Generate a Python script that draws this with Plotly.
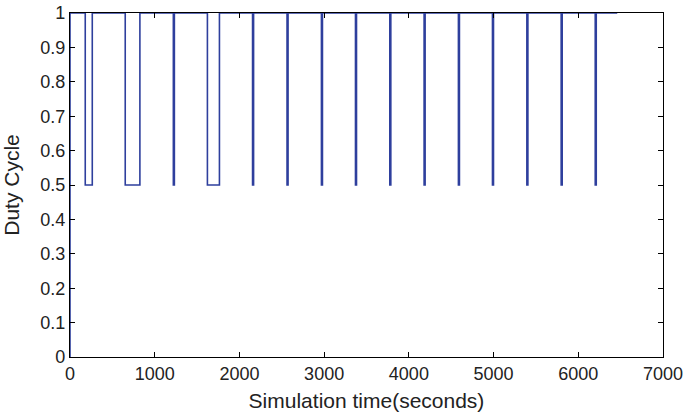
import plotly.graph_objects as go

# Pulse intervals where duty cycle drops to 0.5 (seconds)
pulse_start = [180, 652, 1220, 1622, 2155, 2562, 2968, 3370, 3775, 4180, 4585, 4987, 5393, 5798, 6200]
pulse_end   = [263, 825, 1232, 1764, 2167, 2574, 2980, 3382, 3787, 4192, 4597, 4999, 5405, 5810, 6212]
end_time = 6460
high_value = 1.0
low_value = 0.5

x_ticks = [0, 1000, 2000, 3000, 4000, 5000, 6000, 7000]
y_ticks = [0, 0.1, 0.2, 0.3, 0.4, 0.5, 0.6, 0.7, 0.8, 0.9, 1]
y_ticklabels = ["0", "0.1", "0.2", "0.3", "0.4", "0.5", "0.6", "0.7", "0.8", "0.9", "1"]

xs = [0, 0]
ys = [0, high_value]
for s, e in zip(pulse_start, pulse_end):
    xs += [s, e]
    ys += [low_value, high_value]
xs.append(end_time)
ys.append(high_value)

fig = go.Figure()
fig.add_trace(go.Scatter(x=xs, y=ys, mode="lines", line=dict(color="#2e3f9d", width=1.6, shape="hv"),
                         showlegend=False))

font_family = "Liberation Sans, Arial"
axis_common = dict(showline=True, linecolor="black", linewidth=1.2, mirror="ticks",
                   ticks="inside", ticklen=5, tickcolor="black", showgrid=False, zeroline=False,
                   automargin=False,
                   tickfont=dict(family=font_family, size=18, color="#222"))

fig.update_xaxes(range=[0, 7000], tickvals=x_ticks,
                 title=dict(text="Simulation time(seconds)",
                            font=dict(family=font_family, size=21, color="#222")), **axis_common)
fig.update_yaxes(range=[0, 1], tickvals=y_ticks, ticktext=y_ticklabels,
                 title=dict(text="Duty Cycle", font=dict(family=font_family, size=21, color="#222")),
                 **axis_common)

fig.update_layout(width=685, height=412, margin=dict(l=70, r=22, t=13, b=55),
                  plot_bgcolor="white", paper_bgcolor="white")

fig.write_html("out.html")
